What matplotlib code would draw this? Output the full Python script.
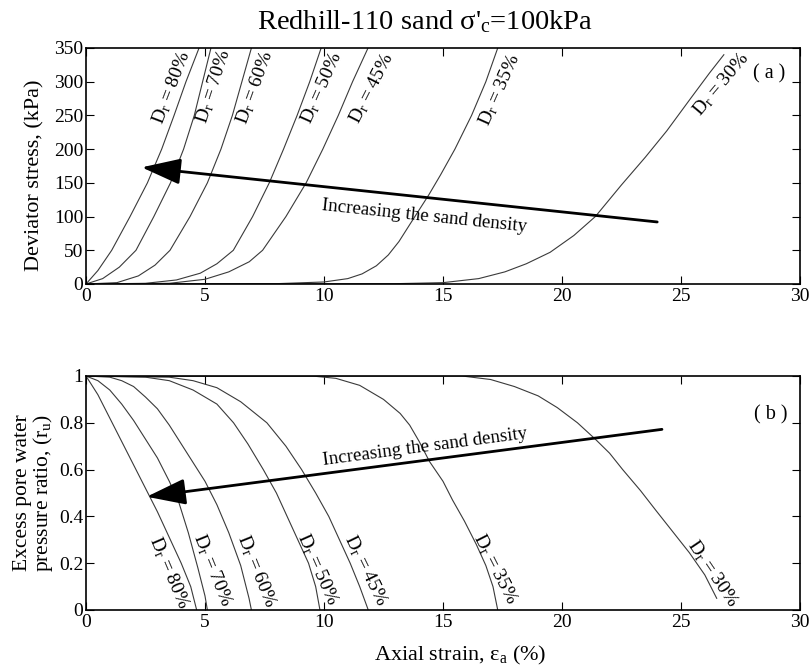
import matplotlib
matplotlib.use("Agg")
import matplotlib.pyplot as plt

plt.rcParams['font.family'] = ['Liberation Serif', 'DejaVu Serif']
plt.rcParams['mathtext.fontset'] = 'custom'
plt.rcParams['mathtext.rm'] = 'Liberation Serif'
plt.rcParams['mathtext.it'] = 'Liberation Serif:italic'

# ---------------- data: (a) deviator stress vs axial strain ----------------
dr_labels = ["80%", "70%", "60%", "50%", "45%", "35%", "30%"]

q_strain_80 = [0, 0.5, 1.08, 1.85, 2.58, 3.18, 3.7, 4.2, 4.75]
q_stress_80 = [0, 20, 50, 100, 150, 200, 250, 300, 350]
q_strain_70 = [0, 0.7, 1.4, 2.1, 2.85, 3.55, 4.1, 4.55, 4.9, 5.25]
q_stress_70 = [0, 8, 25, 50, 100, 150, 200, 250, 300, 350]
q_strain_60 = [0, 1.3, 2.2, 2.9, 3.53, 4.37, 5.1, 5.67, 6.15, 6.55, 6.95]
q_stress_60 = [0, 2, 12, 28, 50, 100, 150, 200, 250, 300, 350]
q_strain_50 = [0, 2.5, 3.8, 4.8, 5.5, 6.19, 7.0, 7.7, 8.3, 8.87, 9.4, 9.88]
q_stress_50 = [0, 1, 6, 16, 30, 50, 100, 150, 200, 250, 300, 350]
q_strain_45 = [0, 3.5, 5.0, 6.0, 6.86, 7.42, 8.4, 9.25, 9.95, 10.6, 11.2, 11.85]
q_stress_45 = [0, 1, 7, 18, 33, 50, 100, 150, 200, 250, 300, 350]
q_strain_35 = [0, 8, 10, 11, 11.6, 12.2, 12.7, 13.15, 13.6, 14.0, 14.4, 14.9, 15.5, 16.2, 16.8, 17.3]
q_stress_35 = [0, 0.5, 3, 8, 15, 27, 43, 63, 88, 110, 132, 162, 200, 250, 300, 350]
q_strain_30 = [0, 13, 15, 16.5, 17.6, 18.5, 19.5, 20.5, 21.4, 22.5, 23.5, 24.4, 25.4, 26.2, 26.8]
q_stress_30 = [0, 0.5, 2, 8, 18, 30, 47, 72, 100, 147, 188, 227, 275, 313, 340]

# ---------------- data: (b) excess pore water pressure ratio ----------------
ru_strain_80 = [0, 0.5, 1.0, 1.5, 2.0, 2.5, 3.0, 3.5, 4.0, 4.4, 4.65]
ru_ratio_80 = [1, 0.92, 0.82, 0.72, 0.62, 0.52, 0.42, 0.31, 0.2, 0.1, 0]
ru_strain_70 = [0, 0.5, 1.0, 1.5, 2.0, 2.5, 3.0, 3.5, 3.9, 4.3, 4.7, 5.0, 5.1]
ru_ratio_70 = [1, 0.98, 0.94, 0.88, 0.81, 0.73, 0.65, 0.55, 0.46, 0.33, 0.18, 0.06, 0]
ru_strain_60 = [0, 1.0, 1.5, 2.0, 2.5, 3.0, 3.5, 4.0, 4.5, 5.0, 5.5, 6.0, 6.5, 6.85, 6.95]
ru_ratio_60 = [1, 0.995, 0.98, 0.955, 0.91, 0.86, 0.79, 0.71, 0.63, 0.55, 0.45, 0.33, 0.19, 0.05, 0]
ru_strain_50 = [0, 2.5, 3.5, 4.5, 5.5, 6.2, 6.8, 7.45, 8.0, 8.45, 8.9, 9.35, 9.65, 9.83]
ru_ratio_50 = [1, 0.995, 0.98, 0.94, 0.88, 0.8, 0.71, 0.6, 0.5, 0.4, 0.3, 0.2, 0.1, 0]
ru_strain_45 = [0, 3.5, 4.5, 5.5, 6.5, 7.6, 8.4, 9.06, 9.65, 10.2, 10.65, 11.1, 11.5, 11.86]
ru_ratio_45 = [1, 0.995, 0.98, 0.95, 0.89, 0.8, 0.7, 0.6, 0.5, 0.4, 0.3, 0.2, 0.1, 0]
ru_strain_35 = [0, 9.5, 10.5, 11.5, 12.5, 13.2, 13.6, 14.0, 14.43, 15.0, 15.4, 15.9, 16.4, 16.8, 17.1, 17.3]
ru_ratio_35 = [1, 1.0, 0.99, 0.96, 0.9, 0.84, 0.79, 0.72, 0.635, 0.55, 0.47, 0.38, 0.28, 0.19, 0.1, 0]
ru_strain_30 = [0, 15.8, 17.0, 18.0, 19.0, 19.8, 20.65, 21.4, 22.0, 22.55, 23.3, 23.95, 24.65, 25.35, 26.0, 26.5]
ru_ratio_30 = [1, 1.0, 0.985, 0.955, 0.915, 0.865, 0.8, 0.73, 0.67, 0.6, 0.51, 0.425, 0.335, 0.245, 0.15, 0.05]

# arrows (tail -> head) in data units
arrow_a_tail = (24.0, 92)
arrow_a_head = (2.34, 173)
arrow_b_tail = (24.2, 0.772)
arrow_b_head = (2.55, 0.484)

q_curves = [(q_strain_80, q_stress_80), (q_strain_70, q_stress_70), (q_strain_60, q_stress_60),
            (q_strain_50, q_stress_50), (q_strain_45, q_stress_45), (q_strain_35, q_stress_35),
            (q_strain_30, q_stress_30)]
ru_curves = [(ru_strain_80, ru_ratio_80), (ru_strain_70, ru_ratio_70), (ru_strain_60, ru_ratio_60),
             (ru_strain_50, ru_ratio_50), (ru_strain_45, ru_ratio_45), (ru_strain_35, ru_ratio_35),
             (ru_strain_30, ru_ratio_30)]

# label placement (layout)
q_label_pos = [(3.6, 291, 69), (5.35, 293, 72), (7.1, 291, 70), (9.9, 291, 66),
               (12.0, 291, 63), (17.4, 288, 66), (26.7, 297, 50)]
ru_label_pos = [(3.5, 0.16, -67), (5.3, 0.17, -68), (7.15, 0.165, -68), (9.75, 0.175, -66),
                (11.75, 0.17, -64), (17.2, 0.178, -63), (26.35, 0.157, -56)]

fig = plt.figure(figsize=(8.12, 6.7), dpi=100)
ax1 = fig.add_axes([86 / 812, 1 - 284 / 670, 714 / 812, 236 / 670])
ax2 = fig.add_axes([86 / 812, 1 - 610 / 670, 714 / 812, 234 / 670])

line_color = '#3a3a3a'
fs_tick = 14
fs_lab = 14

for (xs, ys) in q_curves:
    ax1.plot(xs, ys, color=line_color, lw=0.8)
for (xs, ys) in ru_curves:
    ax2.plot(xs, ys, color=line_color, lw=0.8)

for lab, (x, y, r) in zip(dr_labels, q_label_pos):
    ax1.text(x, y, r"$\mathrm{D_r}$ = " + lab, rotation=r, rotation_mode='anchor',
             ha='center', va='center', fontsize=fs_lab)
for lab, (x, y, r) in zip(dr_labels, ru_label_pos):
    ax2.text(x, y, r"$\mathrm{D_r}$ = " + lab, rotation=r, rotation_mode='anchor',
             ha='center', va='center', fontsize=fs_lab)

arrow_style = dict(arrowstyle='-|>,head_length=2.4,head_width=0.8', mutation_scale=10,
                   lw=2.0, color='black', shrinkA=0, shrinkB=0)
ax1.annotate('', xy=arrow_a_head, xytext=arrow_a_tail, arrowprops=arrow_style)
ax2.annotate('', xy=arrow_b_head, xytext=arrow_b_tail, arrowprops=arrow_style)

ax1.text(14.2, 100, "Increasing the sand density", rotation=-6, rotation_mode='anchor',
         ha='center', va='center', fontsize=13.7)
ax2.text(14.26, 0.697, "Increasing the sand density", rotation=7.5, rotation_mode='anchor',
         ha='center', va='center', fontsize=13.7)

ax1.text(28.7, 311, "( a )", ha='center', va='center', fontsize=14.5)
ax2.text(28.77, 0.833, "( b )", ha='center', va='center', fontsize=14.5)

ax1.set_xlim(0, 30)
ax1.set_ylim(0, 350)
ax1.set_xticks([0, 5, 10, 15, 20, 25, 30])
ax1.set_yticks([0, 50, 100, 150, 200, 250, 300, 350])
ax2.set_xlim(0, 30)
ax2.set_ylim(0, 1)
ax2.set_xticks([0, 5, 10, 15, 20, 25, 30])
ax2.set_yticks([0, 0.2, 0.4, 0.6, 0.8, 1])
ax2.set_yticklabels(['0', '0.2', '0.4', '0.6', '0.8', '1'])

for ax in (ax1, ax2):
    ax.tick_params(direction='in', top=True, right=True, length=6, width=0.8,
                   labelsize=fs_tick)
    ax.tick_params(axis='x', pad=3)
    ax.tick_params(axis='y', pad=2)
    for s in ax.spines.values():
        s.set_linewidth(1.2)

fig.text(35 / 812, 1 - 175 / 670, "Deviator stress, (kPa)", rotation=90, ha='center',
         va='center', fontsize=16)
ax2.set_ylabel("Excess pore water\npressure ratio, (r$_\\mathrm{u}$)", fontsize=15.5, labelpad=3,
               linespacing=0.95)
fig.text(460 / 812, 1 - 655 / 670, "Axial strain, ε$_\\mathrm{a}$ (%)", ha='center',
         va='center', fontsize=16)

fig.text(425 / 812, 1 - 22 / 670, "Redhill-110 sand σ'$_\\mathrm{c}$=100kPa", ha='center',
         va='center', fontsize=20.5)

fig.savefig("out.png", dpi=100)
